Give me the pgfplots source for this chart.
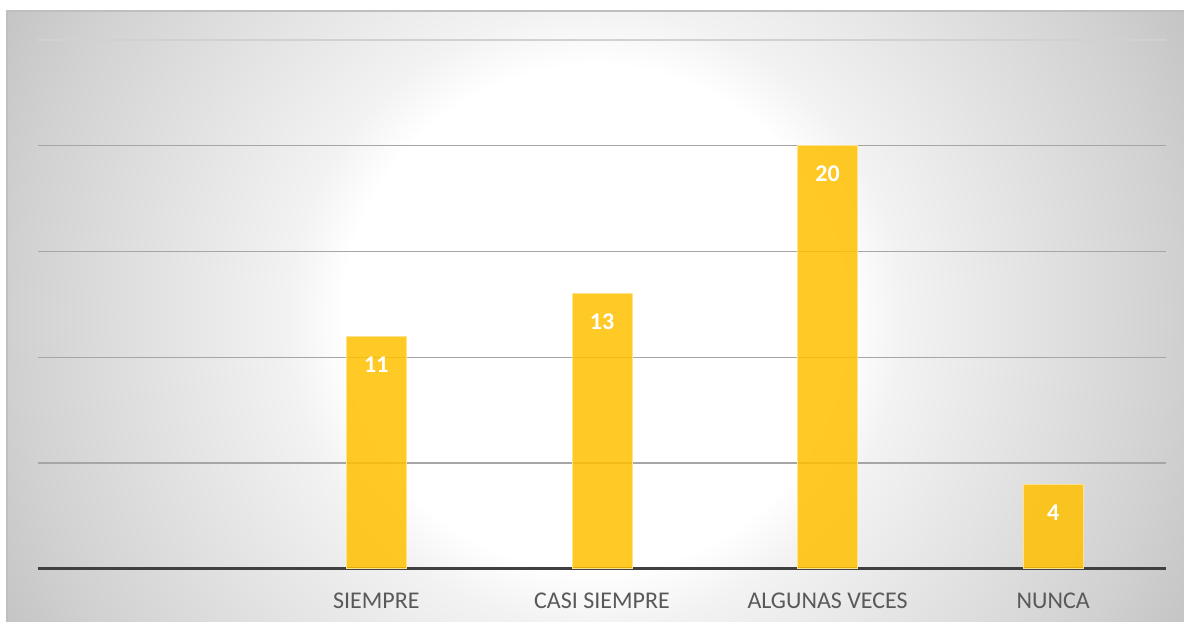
\documentclass[border=0pt]{standalone}
\usepackage{fontspec}
\setmainfont{Carlito}
\usepackage{pgfplots}
\pgfplotsset{compat=1.18}
\definecolor{barYellow}{HTML}{FFC000}
\definecolor{gridGray}{HTML}{A6A6A6}
\definecolor{labelGray}{HTML}{595959}
\definecolor{axisDark}{HTML}{404040}
% 25bp of the shading = radius of the shaded circle (700px)
\pgfdeclareradialshading{chartbg}{\pgfpoint{0bp}{0bp}}{%
  color(0bp)=(white); color(9bp)=(white); color(11bp)=(black!5);
  color(20.7bp)=(black!18); color(25bp)=(black!25); color(50bp)=(black!25)}

\begin{document}
\begin{tikzpicture}
    % page and chart area (1px = 0.5pt, axis origin at the baseline left end)
    \useasboundingbox (-19pt,-28pt) rectangle (573pt,284.5pt);
    \fill[white] (-19pt,-28pt) rectangle (573pt,284.5pt);
    \begin{scope}
        \clip (-15.5pt,-26.5pt) rectangle (573pt,279pt);
        \shade[shading=chartbg] (278.5pt,125.5pt) circle (350pt);
    \end{scope}
    \draw[black!25, line width=0.8pt] (-15.5pt,-26.5pt) -- (-15.5pt,279pt) -- (573pt,279pt);
    \begin{axis}[
        scale only axis,
        width=564pt,
        height=264.5pt,
        xmin=-0.5, xmax=4.5,
        ymin=0, ymax=25,
        axis x line*=bottom,
        axis y line*=left,
        x axis line style={draw=axisDark, line width=1.5pt},
        y axis line style={draw=none},
        xtick={0,1,2,3,4},
        xticklabels={,SIEMPRE,CASI SIEMPRE,ALGUNAS VECES,NUNCA},
        xtick style={draw=none},
        ytick style={draw=none},
        xticklabel style={font=\fontsize{12}{14}\selectfont, text=labelGray, yshift=-4pt},
        ytick={5,10,15,20},
        yticklabels={},
        ymajorgrids,
        grid style={draw=gridGray, line width=0.7pt},
        extra y ticks={25},
        extra y tick labels={},
        extra y tick style={grid style={draw=black!18, line width=0.7pt}},
        /pgf/number format/assume math mode=true,
        ybar,
        bar width=30pt,
        nodes near coords,
        every node near coord/.append style={anchor=center, yshift=-14pt,
            font=\bfseries\fontsize{12}{14}\selectfont, text=white},
    ]
        \addplot[fill=barYellow, fill opacity=0.85, draw=barYellow!45!white, line width=0.5pt,
            text opacity=1]
            coordinates {(1,11) (2,13) (3,20) (4,4)};
    \end{axis}
\end{tikzpicture}
\end{document}
